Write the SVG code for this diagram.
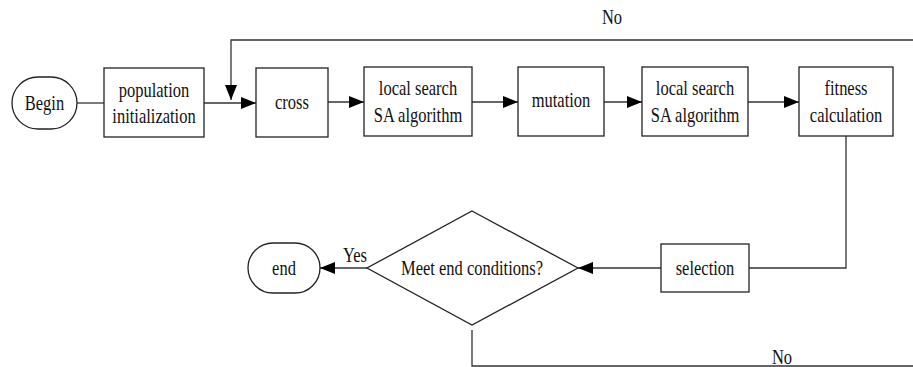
<svg xmlns="http://www.w3.org/2000/svg" width="913" height="367" viewBox="0 0 913 367">
<defs>
<marker id="ah" markerWidth="15" markerHeight="12" refX="15" refY="6" orient="auto" markerUnits="userSpaceOnUse">
<path d="M0,0 L15,6 L0,12 Z" fill="#000"/>
</marker>
<style>
.b{fill:#fff;stroke:#222;stroke-width:1.3}
.l{fill:none;stroke:#333;stroke-width:1.3}
text{font-family:"Liberation Serif","Times New Roman",serif;font-size:16.5px;fill:#111;text-anchor:middle}
</style>
</defs>
<rect width="913" height="367" fill="#fff"/>
<g id="connectors">
<line class="l" x1="77" y1="103" x2="104" y2="103"/>
<line class="l" x1="204" y1="103" x2="256" y2="103" marker-end="url(#ah)"/>
<polyline class="l" points="913,40 231,40 231,100" marker-end="url(#ah)"/>
<line class="l" x1="328" y1="102" x2="364" y2="102" marker-end="url(#ah)"/>
<line class="l" x1="472" y1="102" x2="518" y2="102" marker-end="url(#ah)"/>
<line class="l" x1="604" y1="102" x2="642" y2="102" marker-end="url(#ah)"/>
<line class="l" x1="748" y1="102" x2="799" y2="102" marker-end="url(#ah)"/>
<polyline class="l" points="846,136 846,268 749,268"/>
<line class="l" x1="661" y1="268" x2="578" y2="268" marker-end="url(#ah)"/>
<line class="l" x1="367" y1="268" x2="320" y2="268" marker-end="url(#ah)"/>
<polyline class="l" points="472,330 472,366 913,366"/>
<text transform="translate(612,24) scale(1,1.3)">No</text>
<text transform="translate(355,262) scale(1,1.3)">Yes</text>
<text transform="translate(782,364) scale(1,1.3)">No</text>
</g>
<g id="begin">
<rect class="b" x="12" y="77" width="65" height="52" rx="26"/>
<text transform="translate(44.5,110) scale(1,1.3)">Begin</text>
</g>
<g id="population">
<rect class="b" x="104" y="68" width="100" height="69"/>
<text transform="translate(154,97) scale(1,1.3)">population</text>
<text transform="translate(154,123) scale(1,1.3)">initialization</text>
</g>
<g id="cross">
<rect class="b" x="256" y="68" width="72" height="69"/>
<text transform="translate(292,109) scale(1,1.3)">cross</text>
</g>
<g id="ls1">
<rect class="b" x="364" y="67" width="108" height="69"/>
<text transform="translate(418,95) scale(1,1.3)">local search</text>
<text transform="translate(418,122) scale(1,1.3)">SA algorithm</text>
</g>
<g id="mutation">
<rect class="b" x="518" y="67" width="86" height="69"/>
<text transform="translate(561,107) scale(1,1.3)">mutation</text>
</g>
<g id="ls2">
<rect class="b" x="642" y="67" width="106" height="69"/>
<text transform="translate(695,95) scale(1,1.3)">local search</text>
<text transform="translate(695,122) scale(1,1.3)">SA algorithm</text>
</g>
<g id="fitness">
<rect class="b" x="799" y="67" width="94" height="69"/>
<text transform="translate(846,95) scale(1,1.3)">fitness</text>
<text transform="translate(846,122) scale(1,1.3)">calculation</text>
</g>
<g id="selection">
<rect class="b" x="661" y="244" width="88" height="48"/>
<text transform="translate(705,275) scale(1,1.3)">selection</text>
</g>
<g id="decision">
<polygon class="b" points="472,211 578,268 472,325 367,268"/>
<text transform="translate(472,275) scale(1,1.3)">Meet end conditions?</text>
</g>
<g id="end">
<rect class="b" x="248" y="243" width="72" height="50" rx="25"/>
<text transform="translate(284,275) scale(1,1.3)">end</text>
</g>
</svg>
